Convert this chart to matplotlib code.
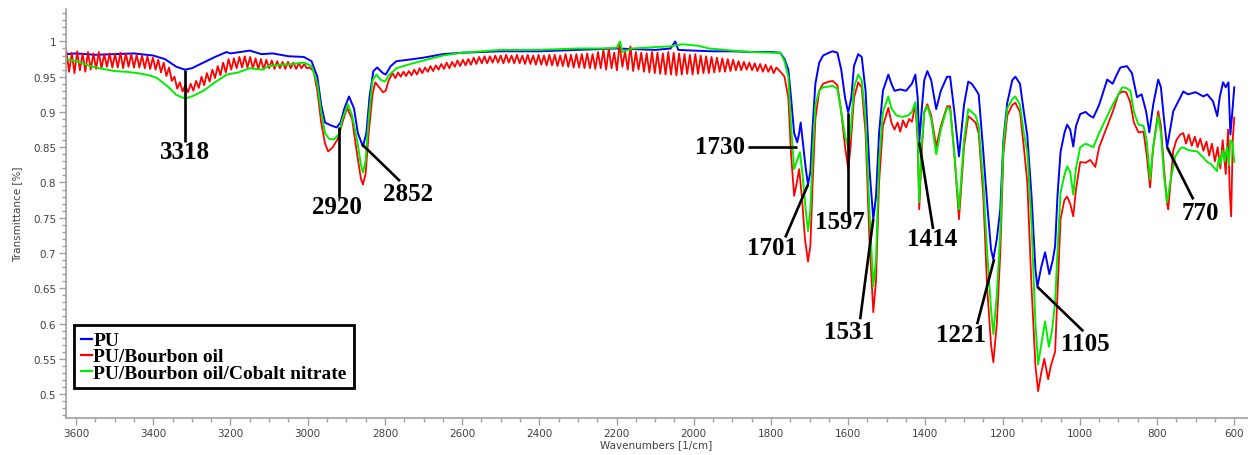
import matplotlib
matplotlib.use('Agg')
import matplotlib.pyplot as plt
from matplotlib.ticker import MultipleLocator, FuncFormatter

# ---- PU (blue) ----
pu_wn = [3625, 3600, 3550, 3500, 3450, 3400, 3370, 3340, 3318, 3300,
         3270, 3240, 3210, 3200, 3150, 3120, 3090, 3050, 3010, 2990,
         2975, 2965, 2955, 2940, 2925, 2915, 2905, 2893, 2880, 2870,
         2857, 2848, 2840, 2830, 2820, 2805, 2798, 2785, 2770, 2740,
         2700, 2650, 2600, 2500, 2400, 2300, 2200, 2150, 2100, 2060,
         2048, 2040, 2000, 1950, 1900, 1850, 1800, 1776, 1765, 1755,
         1748, 1740, 1732, 1727, 1723, 1718, 1710, 1704, 1698, 1692,
         1685, 1675, 1665, 1650, 1640, 1628, 1618, 1608, 1600, 1592,
         1585, 1574, 1565, 1555, 1545, 1535, 1528, 1520, 1510, 1496,
         1488, 1480, 1465, 1450, 1435, 1426, 1420, 1416, 1410, 1403,
         1395, 1385, 1372, 1360, 1344, 1336, 1325, 1313, 1300, 1289,
         1280, 1270, 1262, 1250, 1240, 1230, 1224, 1215, 1206, 1198,
         1188, 1175, 1167, 1155, 1145, 1136, 1125, 1115, 1110, 1100,
         1090, 1079, 1070, 1064, 1058, 1050, 1040, 1033, 1025, 1017,
         1010, 999, 985, 975, 965, 950, 929, 915, 905, 895,
         878, 865, 852, 840, 828, 820, 810, 797, 790, 782,
         774, 766, 758, 745, 732, 720, 700, 680, 670, 655,
         644, 638, 629, 622, 615, 610, 605, 600]
pu_t = [0.982, 0.983, 0.981, 0.982, 0.983, 0.980, 0.975, 0.964, 0.960, 0.962,
        0.970, 0.978, 0.985, 0.983, 0.987, 0.982, 0.983, 0.979, 0.978, 0.972,
        0.950, 0.910, 0.885, 0.881, 0.878, 0.885, 0.905, 0.922, 0.905, 0.870,
        0.851, 0.870, 0.920, 0.958, 0.963, 0.955, 0.953, 0.965, 0.972, 0.974,
        0.977, 0.982, 0.984, 0.986, 0.986, 0.988, 0.990, 0.989, 0.988, 0.990,
        1.000, 0.988, 0.987, 0.986, 0.986, 0.985, 0.985, 0.984, 0.975, 0.960,
        0.920, 0.870, 0.857, 0.870, 0.885, 0.860, 0.820, 0.797, 0.815, 0.880,
        0.940, 0.970, 0.980, 0.984, 0.986, 0.984, 0.960, 0.920, 0.899, 0.920,
        0.965, 0.982, 0.978, 0.930, 0.820, 0.748, 0.780, 0.870, 0.930, 0.953,
        0.940, 0.930, 0.932, 0.930, 0.940, 0.953, 0.920, 0.857, 0.900, 0.945,
        0.958, 0.945, 0.904, 0.930, 0.950, 0.950, 0.900, 0.837, 0.910, 0.943,
        0.940, 0.932, 0.925, 0.843, 0.770, 0.705, 0.691, 0.720, 0.762, 0.860,
        0.913, 0.945, 0.950, 0.940, 0.900, 0.866, 0.780, 0.677, 0.652, 0.680,
        0.701, 0.670, 0.690, 0.710, 0.780, 0.843, 0.870, 0.882, 0.875, 0.851,
        0.880, 0.897, 0.900, 0.895, 0.892, 0.910, 0.946, 0.940, 0.952, 0.963,
        0.965, 0.955, 0.921, 0.925, 0.900, 0.871, 0.910, 0.946, 0.935, 0.890,
        0.850, 0.875, 0.901, 0.915, 0.929, 0.925, 0.928, 0.922, 0.925, 0.915,
        0.894, 0.920, 0.942, 0.935, 0.942, 0.868, 0.900, 0.935]

# ---- PU/Bourbon oil (red) ----
# interference fringes 3625 -> 2995, one reading every 7 cm-1
bo_fringe1_wn = list(range(3625, 2994, -7))
bo_fringe1_t = [0.986, 0.957, 0.984, 0.955, 0.986, 0.959, 0.983, 0.957, 0.985, 0.960,
                0.983, 0.961, 0.985, 0.962, 0.982, 0.964, 0.983, 0.963, 0.982, 0.963,
                0.984, 0.962, 0.983, 0.964, 0.982, 0.963, 0.981, 0.963, 0.980, 0.962,
                0.979, 0.961, 0.977, 0.960, 0.974, 0.956, 0.970, 0.951, 0.963, 0.944,
                0.950, 0.933, 0.942, 0.929, 0.938, 0.928, 0.940, 0.930, 0.944, 0.934,
                0.950, 0.938, 0.955, 0.943, 0.960, 0.948, 0.965, 0.952, 0.970, 0.956,
                0.975, 0.960, 0.976, 0.962, 0.978, 0.963, 0.979, 0.963, 0.978, 0.962,
                0.976, 0.961, 0.975, 0.960, 0.974, 0.962, 0.973, 0.961, 0.972, 0.962,
                0.971, 0.961, 0.971, 0.962, 0.970, 0.961, 0.969, 0.962, 0.968, 0.962,
                0.963]
# C-H stretch region
bo_ch_wn = [2985, 2975, 2965, 2955, 2947, 2935, 2922, 2910, 2898, 2885,
            2872, 2862, 2857, 2850, 2842, 2832, 2825, 2815, 2805, 2798, 2790]
bo_ch_t = [0.958, 0.930, 0.885, 0.855, 0.844, 0.850, 0.862, 0.885, 0.906, 0.890,
           0.840, 0.805, 0.797, 0.812, 0.870, 0.925, 0.942, 0.935, 0.928, 0.930, 0.945]
# fringes 2780 -> 1786
bo_fringe2_wn = list(range(2780, 1779, -7))
bo_fringe2_t = [0.955, 0.948, 0.956, 0.950, 0.957, 0.951, 0.958, 0.952, 0.960, 0.953,
                0.962, 0.955, 0.963, 0.957, 0.965, 0.958, 0.966, 0.960, 0.968, 0.961,
                0.970, 0.962, 0.971, 0.964, 0.973, 0.965, 0.974, 0.966, 0.975, 0.967,
                0.977, 0.968, 0.978, 0.969, 0.979, 0.969, 0.979, 0.970, 0.980, 0.970,
                0.980, 0.969, 0.981, 0.970, 0.980, 0.969, 0.981, 0.969, 0.980, 0.968,
                0.981, 0.968, 0.980, 0.967, 0.981, 0.967, 0.980, 0.966, 0.981, 0.966,
                0.981, 0.965, 0.980, 0.965, 0.982, 0.964, 0.981, 0.963, 0.982, 0.963,
                0.982, 0.962, 0.983, 0.962, 0.982, 0.961, 0.985, 0.962, 0.988, 0.960,
                0.990, 0.962, 0.984, 0.959, 0.997, 0.964, 0.986, 0.960, 0.993, 0.958,
                0.985, 0.960, 0.984, 0.957, 0.983, 0.956, 0.985, 0.955, 0.984, 0.954,
                0.983, 0.953, 0.985, 0.953, 0.984, 0.952, 0.983, 0.953, 0.982, 0.954,
                0.981, 0.953, 0.982, 0.954, 0.980, 0.955, 0.979, 0.955, 0.978, 0.956,
                0.977, 0.957, 0.976, 0.957, 0.975, 0.958, 0.974, 0.959, 0.972, 0.959,
                0.971, 0.960, 0.970, 0.959, 0.969, 0.958, 0.968, 0.957, 0.967, 0.957,
                0.965, 0.955, 0.963]
# fingerprint region
bo_fp_wn = [1772, 1765, 1755, 1748, 1740, 1733, 1727, 1720, 1712, 1704,
            1698, 1692, 1685, 1675, 1665, 1650, 1640, 1628, 1618, 1608,
            1600, 1594, 1585, 1574, 1565, 1555, 1545, 1535, 1528, 1520,
            1510, 1496, 1488, 1480, 1472, 1465, 1458, 1450, 1442, 1435,
            1426, 1420, 1416, 1410, 1403, 1395, 1385, 1372, 1360, 1344,
            1336, 1325, 1313, 1300, 1289, 1280, 1270, 1262, 1250, 1240,
            1230, 1224, 1215, 1206, 1198, 1188, 1175, 1167, 1155, 1145,
            1136, 1125, 1115, 1108, 1100, 1092, 1082, 1075, 1064, 1058,
            1050, 1040, 1033, 1025, 1017, 1010, 999, 985, 973, 960,
            950, 929, 915, 900, 890, 880, 870, 860, 848, 835,
            827, 818, 810, 797, 790, 782, 774, 771, 765, 758,
            750, 740, 732, 725, 718, 710, 702, 695, 688, 680,
            672, 665, 658, 650, 643, 636, 630, 622, 616, 612,
            608, 604, 600]
bo_fp_t = [0.955, 0.950, 0.920, 0.840, 0.781, 0.800, 0.819, 0.780, 0.720, 0.688,
           0.710, 0.800, 0.890, 0.930, 0.940, 0.943, 0.944, 0.938, 0.900, 0.850,
           0.819, 0.850, 0.920, 0.942, 0.935, 0.870, 0.720, 0.616, 0.660, 0.800,
           0.880, 0.906, 0.885, 0.875, 0.885, 0.872, 0.888, 0.878, 0.890, 0.886,
           0.911, 0.860, 0.762, 0.840, 0.900, 0.911, 0.895, 0.851, 0.880, 0.908,
           0.908, 0.840, 0.748, 0.850, 0.894, 0.890, 0.885, 0.870, 0.780, 0.650,
           0.570, 0.545, 0.600, 0.700, 0.840, 0.895, 0.910, 0.913, 0.900, 0.850,
           0.800, 0.650, 0.540, 0.504, 0.530, 0.550, 0.521, 0.540, 0.560, 0.640,
           0.748, 0.775, 0.780, 0.770, 0.752, 0.790, 0.829, 0.828, 0.832, 0.822,
           0.850, 0.880, 0.900, 0.925, 0.929, 0.928, 0.915, 0.885, 0.871, 0.872,
           0.840, 0.793, 0.850, 0.901, 0.880, 0.820, 0.770, 0.762, 0.800, 0.845,
           0.860, 0.868, 0.870, 0.855, 0.868, 0.852, 0.865, 0.850, 0.862, 0.845,
           0.858, 0.838, 0.855, 0.830, 0.850, 0.820, 0.860, 0.812, 0.875, 0.790,
           0.752, 0.860, 0.892]

# ---- PU/Bourbon oil/Cobalt nitrate (green) ----
co_wn = [3625, 3600, 3580, 3550, 3520, 3500, 3470, 3440, 3410, 3390,
         3360, 3340, 3318, 3300, 3270, 3240, 3210, 3180, 3150, 3120,
         3100, 3070, 3040, 3010, 2990, 2975, 2965, 2955, 2945, 2932,
         2920, 2910, 2896, 2885, 2872, 2862, 2857, 2850, 2842, 2832,
         2822, 2812, 2800, 2790, 2770, 2740, 2700, 2650, 2600, 2500,
         2400, 2300, 2240, 2200, 2191, 2185, 2160, 2100, 2060, 2030,
         1990, 1960, 1900, 1850, 1800, 1776, 1765, 1755, 1748, 1740,
         1733, 1725, 1718, 1710, 1704, 1698, 1692, 1685, 1675, 1665,
         1650, 1640, 1628, 1618, 1608, 1600, 1594, 1585, 1574, 1565,
         1555, 1545, 1535, 1528, 1520, 1510, 1496, 1488, 1475, 1460,
         1445, 1435, 1426, 1420, 1416, 1410, 1403, 1395, 1385, 1372,
         1360, 1344, 1336, 1325, 1313, 1300, 1289, 1280, 1270, 1262,
         1250, 1240, 1230, 1224, 1215, 1206, 1198, 1188, 1175, 1167,
         1155, 1145, 1136, 1125, 1115, 1108, 1100, 1090, 1080, 1072,
         1064, 1058, 1050, 1040, 1033, 1025, 1017, 1010, 999, 985,
         965, 950, 929, 915, 900, 890, 880, 869, 860, 848,
         835, 827, 818, 810, 797, 790, 782, 774, 766, 753,
         740, 732, 720, 710, 696, 685, 670, 660, 645, 640,
         636, 630, 625, 619, 614, 610, 605, 600]
co_t = [0.975, 0.972, 0.968, 0.963, 0.960, 0.958, 0.957, 0.955, 0.952, 0.948,
        0.935, 0.924, 0.919, 0.922, 0.930, 0.942, 0.953, 0.956, 0.962, 0.960,
        0.965, 0.967, 0.968, 0.970, 0.965, 0.940, 0.900, 0.870, 0.862, 0.861,
        0.868, 0.890, 0.911, 0.895, 0.860, 0.825, 0.814, 0.830, 0.890, 0.945,
        0.953, 0.946, 0.943, 0.952, 0.962, 0.967, 0.973, 0.980, 0.984, 0.988,
        0.988, 0.990, 0.990, 0.991, 1.000, 0.985, 0.990, 0.992, 0.993, 0.996,
        0.994, 0.990, 0.987, 0.985, 0.984, 0.984, 0.972, 0.950, 0.880, 0.819,
        0.830, 0.843, 0.810, 0.760, 0.731, 0.760, 0.840, 0.910, 0.930, 0.935,
        0.936, 0.937, 0.933, 0.900, 0.865, 0.850, 0.870, 0.935, 0.953, 0.945,
        0.890, 0.760, 0.653, 0.690, 0.830, 0.900, 0.922, 0.905, 0.895, 0.893,
        0.895, 0.900, 0.914, 0.870, 0.772, 0.850, 0.900, 0.908, 0.890, 0.840,
        0.875, 0.906, 0.904, 0.840, 0.762, 0.860, 0.904, 0.900, 0.895, 0.880,
        0.800, 0.700, 0.620, 0.585, 0.640, 0.730, 0.855, 0.905, 0.918, 0.922,
        0.910, 0.870, 0.843, 0.740, 0.600, 0.542, 0.570, 0.603, 0.567, 0.590,
        0.630, 0.700, 0.786, 0.810, 0.823, 0.815, 0.783, 0.820, 0.850, 0.855,
        0.850, 0.870, 0.894, 0.910, 0.925, 0.935, 0.934, 0.930, 0.900, 0.882,
        0.880, 0.860, 0.805, 0.850, 0.894, 0.870, 0.810, 0.772, 0.800, 0.837,
        0.848, 0.850, 0.846, 0.845, 0.844, 0.838, 0.829, 0.826, 0.816, 0.835,
        0.826, 0.845, 0.830, 0.850, 0.825, 0.860, 0.857, 0.829]

series_names = ['PU', 'PU/Bourbon oil', 'PU/Bourbon oil/Cobalt nitrate']

# peak labels : tip on the curve, end of the leader, label centre
peak_labels = ['3318', '2920', '2852', '1730', '1701', '1597', '1531', '1414', '1221', '1105', '770']
tip_xy = [(3318, 0.960), (2920, 0.878), (2859, 0.854), (1732, 0.851), (1704, 0.797), (1600, 0.899),
          (1535, 0.748), (1416, 0.857), (1222, 0.691), (1110, 0.652), (774, 0.850)]
tail_xy = [(3318, 0.858), (2920, 0.780), (2761, 0.802), (1859, 0.851), (1763, 0.722), (1600, 0.755),
           (1569, 0.606), (1380, 0.734), (1266, 0.599), (991, 0.589), (706, 0.776)]
text_xy = [(3318, 0.844), (2924, 0.766), (2740, 0.785), (1932, 0.851), (1797, 0.708), (1621, 0.744),
           (1597, 0.588), (1382, 0.720), (1307, 0.584), (986, 0.572), (688, 0.758)]

assert len(pu_wn) == len(pu_t) and len(co_wn) == len(co_t)
assert len(bo_fringe1_wn) == len(bo_fringe1_t) and len(bo_fringe2_wn) == len(bo_fringe2_t)
assert len(bo_ch_wn) == len(bo_ch_t) and len(bo_fp_wn) == len(bo_fp_t)

bo_wn = bo_fringe1_wn + bo_ch_wn + bo_fringe2_wn + bo_fp_wn
bo_t = bo_fringe1_t + bo_ch_t + bo_fringe2_t + bo_fp_t

grey = '#a0a0a0'
txt_grey = '#404040'

fig = plt.figure(figsize=(12.53, 4.56), dpi=100)
ax = fig.add_axes([66 / 1253, 37 / 456, 1181 / 1253, 409 / 456])

ax.plot(pu_wn, pu_t, color='#0000ff', lw=1.4, label=series_names[0])
ax.plot(bo_wn, bo_t, color='#ff0000', lw=1.3, label=series_names[1])
ax.plot(co_wn, co_t, color='#00ee00', lw=1.4, label=series_names[2])

ax.set_xlim(3626, 567)
ax.set_ylim(0.466, 1.046)

# leaders and peak numbers
for lab, tip, tail, pos in zip(peak_labels, tip_xy, tail_xy, text_xy):
    ax.plot([tip[0], tail[0]], [tip[1], tail[1]], color='black', lw=1.9, solid_capstyle='butt')
    ax.text(pos[0], pos[1], lab, ha='center', va='center', fontsize=18,
            family='Liberation Serif', fontweight='bold', color='black')

# axes look
for side in ['top', 'right']:
    ax.spines[side].set_visible(False)
for side in ['left', 'bottom']:
    ax.spines[side].set_color(grey)
    ax.spines[side].set_linewidth(1.2)

ax.xaxis.set_major_locator(MultipleLocator(200))
ax.xaxis.set_minor_locator(MultipleLocator(50))
ax.yaxis.set_major_locator(MultipleLocator(0.05))
ax.yaxis.set_minor_locator(MultipleLocator(0.01))
ax.yaxis.set_major_formatter(FuncFormatter(lambda v, p: '%g' % round(v, 2)))
ax.xaxis.set_major_formatter(FuncFormatter(lambda v, p: '%d' % v))
ax.tick_params(which='major', length=5, width=1, color=grey, labelsize=7.5, labelcolor=txt_grey, pad=2)
ax.tick_params(which='minor', length=3, width=1, color=grey)

ax.set_xlabel('Wavenumbers [1/cm]', fontsize=7.5, color=txt_grey, labelpad=1)
ax.set_ylabel('Transmittance [%]', fontsize=7.5, color=txt_grey, labelpad=8)

leg = ax.legend(loc='upper left', bbox_to_anchor=(8 / 1181, 93 / 409), borderaxespad=0,
                prop={'family': 'Liberation Serif', 'weight': 'bold', 'size': 14},
                handlelength=0.55, handletextpad=0.1, labelspacing=-0.08, borderpad=0.35,
                fancybox=False, framealpha=1)
leg.get_frame().set_edgecolor('black')
leg.get_frame().set_linewidth(2.0)
for h in leg.get_lines():
    h.set_linewidth(1.6)

fig.savefig('out.png', dpi=100)
